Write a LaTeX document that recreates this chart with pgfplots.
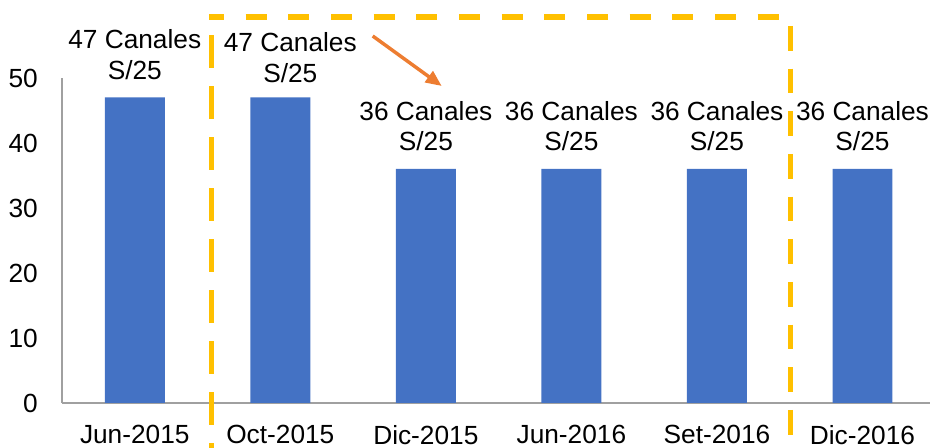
\documentclass[border=0pt]{standalone}
\usepackage{fontspec}
\setmainfont{Liberation Sans}
\usepackage{pgfplots}
\pgfplotsset{compat=1.18}
\usetikzlibrary{arrows.meta}

\definecolor{barblue}{HTML}{4472C4}
\definecolor{axisgray}{HTML}{A0A0A0}
\definecolor{boxyellow}{HTML}{FFC000}
\definecolor{arroworange}{HTML}{ED7D31}
\newcommand{\lbl}{\fontsize{19.7pt}{23pt}\selectfont}

\begin{document}
\begin{tikzpicture}[
    lab/.style={anchor=south, inner sep=0pt, yshift=13.3pt, align=center, font=\lbl},
]
\begin{axis}[
    at={(46.5pt,33.75pt)}, anchor=south west,
    scale only axis, width=651pt, height=243.75pt,
    xmin=-0.5, xmax=5.464, ymin=0, ymax=50,
    axis lines=left,
    axis line style={-, draw=axisgray, line width=1pt},
    major tick length=0pt,
    xtick=data,
    xticklabels={Jun-2015,Oct-2015,Dic-2015,Jun-2016,Set-2016,Dic-2016},
    ytick={0,10,...,50},
    tick label style={font=\lbl},
    /pgf/number format/assume math mode=true,
    xticklabel style={inner sep=0pt, anchor=north, yshift=-16.5pt},
    yticklabel style={inner sep=0pt, anchor=east, xshift=-18pt},
    clip=false,
]

\addplot[ybar, bar width=0.412, fill=barblue, draw=none]
    coordinates {(0,47) (1,47) (2,36) (3,36) (4,36) (5,36)};

% data labels
\node[lab] at (axis cs:0,47) {47 Canales\\S/25};
\node[lab, xshift=7.5pt, yshift=-2.25pt] at (axis cs:1,47) {47 Canales\\S/25};
\node[lab] at (axis cs:2,36) {36 Canales\\S/25};
\node[lab] at (axis cs:3,36) {36 Canales\\S/25};
\node[lab] at (axis cs:4,36) {36 Canales\\S/25};
\node[lab] at (axis cs:5,36) {36 Canales\\S/25};

\end{axis}

% annotations, in pixel units from the top left corner
\begin{scope}[x=0.75pt, y=-0.75pt, yshift=336pt]
\draw[boxyellow, line width=4.1pt, dash pattern=on 15.75pt off 16.25pt, dash phase=4.5pt]
    (209,17) -- (780,17);
\draw[boxyellow, line width=4.1pt, dash pattern=on 24.5pt off 13.75pt, dash phase=24.5pt]
    (211.7,17) -- (211.7,448);
\draw[boxyellow, line width=4.1pt, dash pattern=on 18.5pt off 13.5pt]
    (790.3,26) -- (790.3,448);
\draw[arroworange, line width=2.6pt, -{Triangle[length=12pt,width=10pt]}]
    (372.7,36) -- (441.7,86);
\end{scope}

\pgfresetboundingbox
\useasboundingbox (0,0) rectangle (697.5pt,336pt);
\end{tikzpicture}
\end{document}
